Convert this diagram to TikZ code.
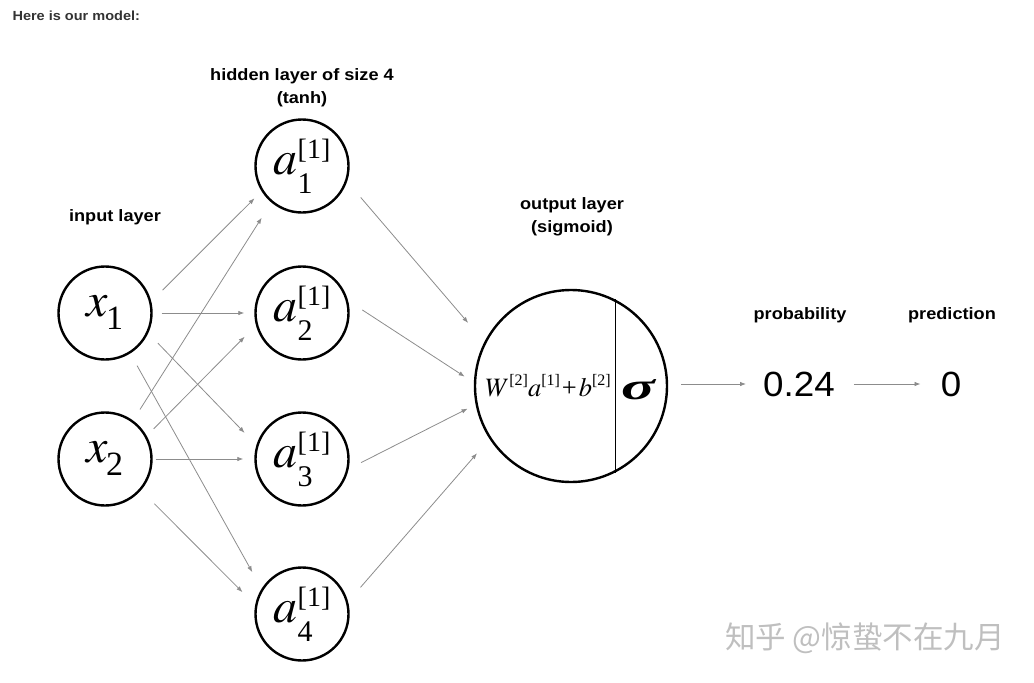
\documentclass[tikz,border=0pt]{standalone}
\usepackage{mathptmx}
\usepackage[no-math]{fontspec}
\usepackage{graphicx}
\newfontfamily\labfont{Liberation Sans}[FakeStretch=1.1]
\newfontfamily\numfont{Liberation Sans}[FakeStretch=1.05]
\newfontfamily\timesfont{Liberation Serif}
\newfontfamily\cjkfont{Noto Sans CJK SC}
\usetikzlibrary{arrows.meta}

% 神经元里的符号
\newcommand{\inp}[1]{\raisebox{-6pt}{$x$\kern-2pt\raisebox{-13pt}{\fontsize{34}{34}\selectfont #1}}}
\newcommand{\actv}[1]{\raisebox{-14pt}{$a$\rlap{\raisebox{-19pt}{\fontsize{30}{30}\selectfont #1}}\raisebox{16pt}{\fontsize{28}{28}\selectfont [1]}}}
\newcommand{\layerup}[1]{\raisebox{11pt}{\fontsize{16}{16}\selectfont [#1]}}

\begin{document}
\begin{tikzpicture}[x=1pt, y=-1pt,
    neuron/.style={circle, draw, line width=2.4pt, minimum size=93pt, inner sep=0pt,
                   font=\timesfont\fontsize{48}{52}\selectfont},
    conn/.style={-{Latex[length=6pt,width=4.5pt]}, draw=black!45, line width=0.8pt},
    lab/.style={font=\labfont\bfseries\fontsize{16.5}{23}\selectfont, align=center}]
    \useasboundingbox (0,0) rectangle (1034,683);

    % 标题
    \node[anchor=west, text=black!80, font=\labfont\bfseries\fontsize{13.2}{15}\selectfont] (title) at (9,16) {Here is our model:};

    % 各层说明
    \node[lab] (inlab) at (115,217) {input layer};
    \node[lab] (hidlab) at (302,88) {hidden layer of size 4\\(tanh)};
    \node[lab] (outlab) at (572,217) {output layer\\(sigmoid)};
    \node[lab] (problab) at (800,315) {probability};
    \node[lab] (predlab) at (952,315) {prediction};

    % 输入层
    \node[neuron] (x1) at (105,313) {\inp{1}};
    \node[neuron] (x2) at (105,459) {\inp{2}};

    % 隐藏层
    \node[neuron] (a1) at (302,166) {\actv{1}};
    \node[neuron] (a2) at (302,313) {\actv{2}};
    \node[neuron] (a3) at (302,459) {\actv{3}};
    \node[neuron] (a4) at (302,614) {\actv{4}};

    % 输出层
    \node[circle, draw, line width=2.4pt, minimum size=192pt, inner sep=0pt] (out) at (571,386) {};
    \draw[line width=1.2pt] (out.63.4) -- (out.-63.4);
    \node[anchor=base east, inner sep=0pt, font=\timesfont\fontsize{26.5}{30}\selectfont] (wsum) at (611,396)
        {$W$\layerup{2}$a$\layerup{1}\kern2pt+\kern2pt$b$\layerup{2}};
    \node[anchor=base, inner sep=0pt, font=\timesfont\bfseries\itshape\fontsize{38}{42}\selectfont] (sig) at (638,399) {\scalebox{1.65}[1]{σ}};

    % 输出值
    \node[inner sep=0pt, font=\numfont\fontsize{35}{38}\selectfont] (prob) at (799,384) {0.24};
    \node[inner sep=0pt, font=\numfont\fontsize{35}{38}\selectfont] (pred) at (951,384) {0};

    % 输入层 -> 隐藏层
    \draw[conn, shorten <=16pt, shorten >=10pt] (x1.14) -- (a1.212);
    \draw[conn, shorten <=9pt, shorten >=10pt] (x1.0) -- (a2.180);
    \draw[conn, shorten <=14pt, shorten >=17pt] (x1.-25) -- (a3.163);
    \draw[conn, shorten <=14pt, shorten >=19pt] (x1.-58) -- (a4.148);
    \draw[conn, shorten <=13pt, shorten >=18pt] (x2.54) -- (a1.230);
    \draw[conn, shorten <=10pt, shorten >=16pt] (x2.29) -- (a2.195);
    \draw[conn, shorten <=3pt, shorten >=11pt] (x2.0) -- (a3.180);
    \draw[conn, shorten <=19pt, shorten >=18pt] (x2.-41) -- (a4.169);

    % 隐藏层 -> 输出层
    \draw[conn, shorten <=21pt, shorten >=25pt] (a1.-19) -- (out.153);
    \draw[conn, shorten <=17pt, shorten >=11pt] (a2.15) -- (out.178);
    \draw[conn, shorten <=14pt, shorten >=9pt] (a3.-12) -- (out.191);
    \draw[conn, shorten <=19pt, shorten >=19pt] (a4.15) -- (out.213);

    % 概率 -> 预测
    \draw[conn, shorten <=13pt, shorten >=17pt] (out.east |- prob.west) -- (prob.west);
    \draw[conn, shorten <=19pt, shorten >=20pt] (prob.east) -- (pred.west);

    % 水印
    \node[text=black!25, font=\cjkfont\fontsize{30.5}{32}\selectfont] (wm) at (865,638) {知乎 @惊蛰不在九月};
\end{tikzpicture}
\end{document}
